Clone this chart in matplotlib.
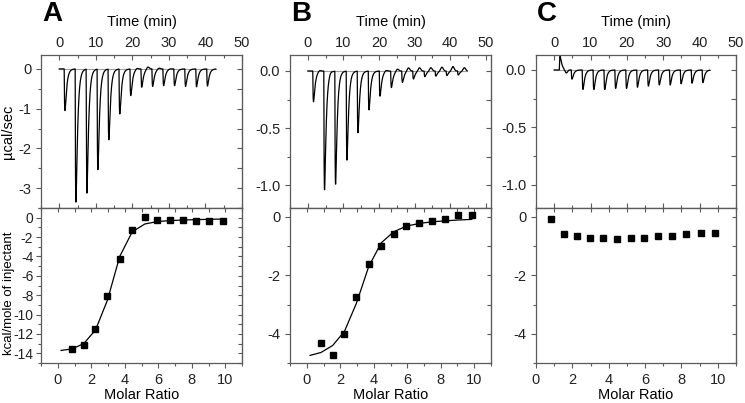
import numpy as np
import matplotlib.pyplot as plt
from matplotlib.ticker import MultipleLocator

plt.rcParams['font.family'] = ['Liberation Sans', 'DejaVu Sans']
plt.rcParams['axes.unicode_minus'] = False

# raw ITC traces: injection time (min), peak height (ucal/sec), small overshoot above baseline
time_a = [1.35, 4.35, 7.35, 10.35, 13.35, 16.35, 19.35, 22.35, 25.35, 28.35, 31.35, 34.35, 37.35, 40.35]
peak_a = [-1.05, -3.35, -3.12, -2.53, -1.78, -1.13, -0.67, -0.46, -0.44, -0.42, -0.42, -0.44, -0.45, -0.43]
over_a = [0, 0, 0, 0, 0, 0, 0.03, 0.06, 0.03, 0.01, 0, 0, 0, 0]

time_b = [1.4, 4.5, 7.6, 10.8, 13.9, 17.0, 20.1, 23.3, 26.4, 29.5, 32.7, 35.8, 38.9, 42.1]
peak_b = [-0.27, -1.04, -0.99, -0.78, -0.54, -0.34, -0.22, -0.145, -0.10, -0.07, -0.05, -0.045, -0.04, -0.035]
over_b = [0.01, 0.01, 0.0, 0.0, 0.0, 0.0, 0.01, 0.02, 0.03, 0.03, 0.03, 0.035, 0.04, 0.03]

time_c = [1.4, 4.7, 7.7, 10.7, 13.7, 16.7, 19.7, 22.7, 25.7, 28.7, 31.7, 34.7, 37.7, 40.7]
peak_c = [0.12, -0.08, -0.17, -0.17, -0.17, -0.16, -0.16, -0.15, -0.14, -0.13, -0.13, -0.12, -0.115, -0.11]
over_c = [-0.03, 0, 0, 0, 0, 0, 0, 0, 0, 0, 0, 0, 0, 0]

trace_end = [42.8, 44.8, 42.8]

# integrated heats (kcal/mole of injectant) vs molar ratio
ratio = [0.85, 1.55, 2.25, 2.97, 3.7, 4.45, 5.2, 5.95, 6.7, 7.5, 8.27, 9.05, 9.85]
heat_a = [-13.6, -13.1, -11.5, -8.05, -4.3, -1.27, 0.03, -0.24, -0.2, -0.24, -0.34, -0.38, -0.38]
heat_b = [-4.32, -4.72, -4.0, -2.76, -1.62, -0.99, -0.58, -0.30, -0.23, -0.15, -0.09, 0.07, 0.05]
heat_c = [-0.08, -0.58, -0.66, -0.71, -0.71, -0.75, -0.72, -0.72, -0.65, -0.65, -0.59, -0.55, -0.54]

# fitted curves (Origin draws them through the injection points)
fit_x = [0.2, 0.85, 1.55, 2.25, 2.97, 3.7, 4.45, 5.2, 5.95, 6.7, 7.5, 8.27, 9.05, 9.85]
fit_a = [-13.7, -13.55, -13.0, -11.6, -8.5, -4.0, -1.45, -0.65, -0.4, -0.3, -0.24, -0.2, -0.17, -0.14]
fit_b = [-4.74, -4.64, -4.4, -3.92, -2.95, -1.7, -0.89, -0.51, -0.32, -0.23, -0.17, -0.14, -0.11, -0.09]

W, H = 745, 403
GREY = '#5a5a5a'
LAB = 10.5


def box(x0, x1, y0, y1):
    return [x0 / W, 1 - y1 / H, (x1 - x0) / W, (y1 - y0) / H]


def make_trace(times, peaks, overs, t_end):
    t = np.linspace(0, t_end, 5000)
    y = np.zeros_like(t)
    ss = np.linspace(0, 5, 2000)
    kmax = ((1 - np.exp(-ss / 0.15)) * np.exp(-ss / 0.45)).max()
    for ti, p, o in zip(times, peaks, overs):
        s = t - ti
        m = s > 0
        y[m] += p * (1 - np.exp(-s[m] / 0.15)) * np.exp(-s[m] / 0.45) / kmax
        y[m] += o * np.exp(-((s[m] - 1.9) / 0.5) ** 2)
    return t, y


def style(ax):
    for sp in ax.spines.values():
        sp.set_color(GREY)
        sp.set_linewidth(0.9)
    ax.tick_params(which='both', colors=GREY, labelcolor='#222222', labelsize=10.5, width=0.8)
    ax.tick_params(which='major', length=3.5)
    ax.tick_params(which='minor', length=2)


cols = [(41, 242), (290, 491), (536, 736)]
fig = plt.figure(figsize=(W / 100, H / 100), dpi=100)

traces = [(time_a, peak_a, over_a), (time_b, peak_b, over_b), (time_c, peak_c, over_c)]
top_ylims = [(-3.5, 0.35), (-1.2, 0.14), (-1.2, 0.13)]
top_major = [1, 0.5, 0.5]
top_xlims = [(-5, 50), (-5, 51.5), (-5, 50)]
heats = [heat_a, heat_b, heat_c]
fits = [fit_a, fit_b, None]
bot_ylims = [(-15, 1), (-5, 0.3), (-5, 0.3)]
bot_xlims = [(-1, 11), (-1, 11), (0, 11)]
letters = ['A', 'B', 'C']

for i, (x0, x1) in enumerate(cols):
    # raw heat trace
    ax = fig.add_axes(box(x0, x1, 55, 208))
    t, y = make_trace(*traces[i], trace_end[i])
    ax.plot([0, trace_end[i]], [0, 0], color='#a0a0a0', lw=0.8)
    ax.plot(t, y, color='black', lw=0.9)
    ax.set_xlim(*top_xlims[i])
    ax.set_ylim(*top_ylims[i])
    ax.xaxis.set_major_locator(MultipleLocator(10))
    ax.xaxis.set_minor_locator(MultipleLocator(5))
    ax.yaxis.set_major_locator(MultipleLocator(top_major[i]))
    ax.yaxis.set_minor_locator(MultipleLocator(top_major[i] / 2))
    if i > 0:
        ax.yaxis.set_major_formatter('{x:.1f}')
    ax.tick_params(axis='x', which='both', direction='in', top=True, bottom=True,
                   labeltop=True, labelbottom=False)
    ax.tick_params(axis='y', which='both', direction='out', right=False)
    sec = ax.secondary_yaxis('right')
    sec.yaxis.set_major_locator(MultipleLocator(top_major[i] / 2))
    sec.tick_params(direction='in', labelright=False, length=3.5, colors=GREY, width=0.8)
    sec.spines['right'].set_color(GREY)
    ax.set_xlabel('Time (min)', fontsize=LAB, labelpad=7)
    ax.xaxis.set_label_position('top')
    style(ax)
    if i == 0:
        ax.set_ylabel('µcal/sec', fontsize=LAB)
        ax.yaxis.set_label_coords((15 - x0) / (x1 - x0), 0.5)
    fig.text((x0 + 1) / W, 1 - 14 / H, letters[i], fontsize=20, fontweight='bold', va='center')

    # integrated heats
    bx = fig.add_axes(box(x0, x1, 208, 363))
    bx.plot(ratio, heats[i], 's', color='black', ms=4.2, mec='black')
    if fits[i] is not None:
        bx.plot(fit_x, fits[i], color='black', lw=0.9)
    bx.set_xlim(*bot_xlims[i])
    bx.set_ylim(*bot_ylims[i])
    bx.xaxis.set_major_locator(MultipleLocator(2))
    bx.xaxis.set_minor_locator(MultipleLocator(1))
    bx.yaxis.set_major_locator(MultipleLocator(2))
    bx.yaxis.set_minor_locator(MultipleLocator(1))
    bx.tick_params(axis='x', which='both', direction='out', top=False)
    bx.tick_params(axis='y', which='both', direction='out', right=False)
    secx = bx.secondary_xaxis('top')
    secx.xaxis.set_major_locator(MultipleLocator(1))
    secx.tick_params(direction='in', labeltop=False, length=3, colors=GREY, width=0.8)
    secx.spines['top'].set_color(GREY)
    secy = bx.secondary_yaxis('right')
    secy.yaxis.set_major_locator(MultipleLocator(1))
    secy.tick_params(direction='in', labelright=False, length=3, colors=GREY, width=0.8)
    secy.spines['right'].set_color(GREY)
    bx.set_xlabel('Molar Ratio', fontsize=LAB, labelpad=1)
    style(bx)
    if i == 0:
        bx.tick_params(axis='y', labelsize=10, pad=2)
        bx.set_ylabel('kcal/mole of injectant', fontsize=9.5)
        bx.yaxis.set_label_coords((15 - x0) / (x1 - x0), 0.45)

fig.savefig('out.png', dpi=100)
